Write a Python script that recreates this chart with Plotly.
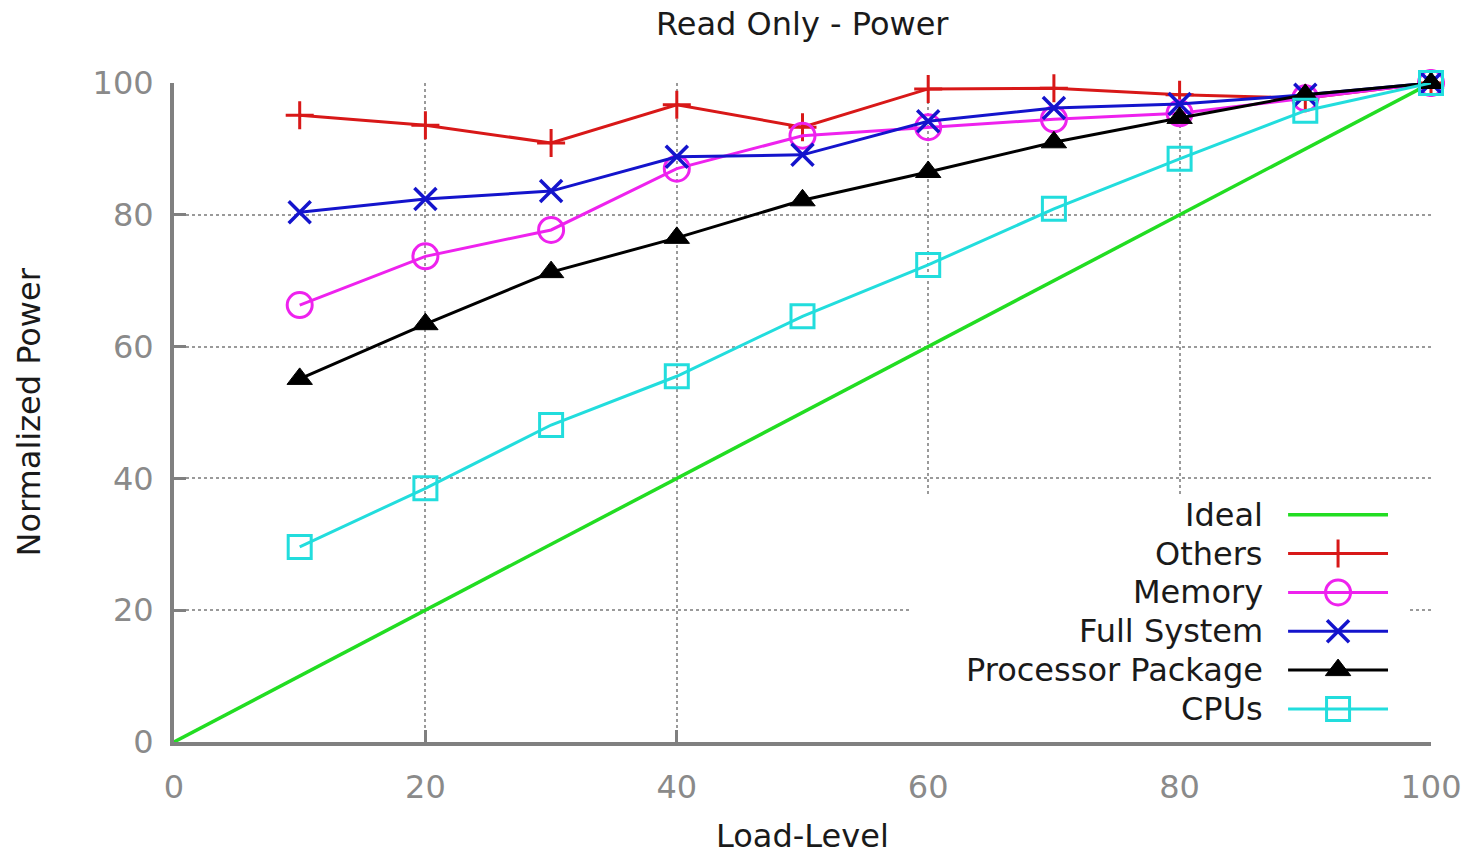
import plotly.graph_objects as go

# ---- data ----
load_levels = [10, 20, 30, 40, 50, 60, 70, 80, 90, 100]
ideal_x = [0, 100]
ideal_y = [0, 100]
others = [95.1, 93.6, 90.9, 96.7, 93.3, 99.1, 99.2, 98.2, 97.7, 100]
memory = [66.3, 73.7, 77.7, 87.0, 92.0, 93.3, 94.5, 95.4, 97.7, 100]
full_system = [80.4, 82.4, 83.6, 88.8, 89.1, 94.2, 96.2, 96.8, 98.2, 100]
processor_pkg = [55.1, 63.4, 71.3, 76.5, 82.2, 86.5, 91.0, 94.7, 98.2, 100]
cpus = [29.6, 38.5, 48.1, 55.5, 64.6, 72.4, 80.9, 88.5, 95.8, 100]
tick_vals = [0, 20, 40, 60, 80, 100]
tick_text = ["0", "20", "40", "60", "80", "100"]

FONT = "DejaVu Sans"
FS = 32
GREEN = "#22dd22"
RED = "#d81818"
MAG = "#ee22ee"
BLUE = "#1414cc"
BLACK = "#000000"
CYAN = "#22dddd"

series = [
    ("Ideal", None, None, GREEN, None, 0, 0),
    ("Others", load_levels, others, RED, "cross-thin-open", 20, 3),
    ("Memory", load_levels, memory, MAG, "circle-open", 25, 3),
    ("Full System", load_levels, full_system, BLUE, "x-thin-open", 22, 3.5),
    ("Processor Package", load_levels, processor_pkg, BLACK, "triangle-up", 22, 1),
    ("CPUs", load_levels, cpus, CYAN, "square-open", 23, 3),
]

fig = go.Figure()

for name, xs, ys, col, sym, sz, lw in series:
    if name == "Ideal":
        fig.add_trace(go.Scatter(x=ideal_x, y=ideal_y, mode="lines",
                                 line=dict(color=col, width=3.5),
                                 showlegend=False, cliponaxis=False, name=name))
    else:
        fig.add_trace(go.Scatter(x=xs, y=ys, mode="lines+markers",
                                 line=dict(color=col, width=3),
                                 marker=dict(symbol=sym, size=sz, color=col,
                                             line=dict(color=col, width=lw)),
                                 showlegend=False, cliponaxis=False, name=name))

# ---- custom legend (text left, key on the right, like gnuplot) ----
n = len(series)
for i, (name, xs, ys, col, sym, sz, lw) in enumerate(series):
    row = n - 1 - i
    if sym is None:
        fig.add_trace(go.Scatter(x=[0.758, 0.958], y=[row, row], mode="lines",
                                 line=dict(color=col, width=3.5),
                                 xaxis="x2", yaxis="y2", showlegend=False,
                                 hoverinfo="skip", cliponaxis=False))
    else:
        fig.add_trace(go.Scatter(x=[0.758, 0.858, 0.958], y=[row, row, row],
                                 mode="lines+markers",
                                 line=dict(color=col, width=3),
                                 marker=dict(symbol=sym, size=sz, color=col,
                                             opacity=[0, 1, 0],
                                             line=dict(color=col, width=lw)),
                                 xaxis="x2", yaxis="y2", showlegend=False,
                                 hoverinfo="skip", cliponaxis=False))
    fig.add_annotation(x=0.712, y=row, xref="x2", yref="y2", text=name,
                       showarrow=False, xanchor="right", yanchor="middle",
                       font=dict(family=FONT, size=FS, color="#1a1a1a"))

# white legend box hiding the grid
fig.add_shape(type="rect", xref="x", yref="y",
              x0=58.5, x1=98.2, y0=0.0, y1=37.2,
              fillcolor="white", line=dict(width=0), layer="between")

axis_common = dict(
    range=[0, 100], tickmode="array", tickvals=tick_vals, ticktext=tick_text,
    showgrid=True, gridcolor="#9a9a9a", griddash="dot", gridwidth=2,
    zeroline=False, showline=True, linecolor="#808080", linewidth=4,
    ticks="inside", ticklen=12, tickwidth=3, tickcolor="#808080",
    tickfont=dict(family=FONT, size=FS, color="#8a8a8a"),
    mirror=False, fixedrange=True,
)

fig.update_layout(
    width=1474, height=856,
    margin=dict(l=174, r=41, t=83, b=114),
    paper_bgcolor="white", plot_bgcolor="white",
    xaxis=dict(**axis_common, ticklabelstandoff=14),
    yaxis=dict(**axis_common, ticklabelstandoff=10),
    xaxis2=dict(domain=[0.585, 0.9825], range=[0, 1], visible=False,
                anchor="y2", fixedrange=True),
    yaxis2=dict(domain=[0.0, 0.372], range=[-0.85, 5.46], visible=False,
                anchor="x2", fixedrange=True),
    showlegend=False,
    font=dict(family=FONT, size=FS, color="#1a1a1a"),
)

# titles
fig.add_annotation(text="Read Only - Power", xref="paper", yref="paper",
                   x=0.5, y=1, yshift=59, showarrow=False,
                   xanchor="center", yanchor="middle",
                   font=dict(family=FONT, size=FS, color="#1a1a1a"))
fig.add_annotation(text="Load-Level", xref="paper", yref="paper",
                   x=0.5, y=0, yshift=-94, showarrow=False,
                   xanchor="center", yanchor="middle",
                   font=dict(family=FONT, size=FS, color="#1a1a1a"))
fig.add_annotation(text="Normalized Power", xref="paper", yref="paper",
                   x=0, y=0.5, xshift=-146, showarrow=False, textangle=-90,
                   xanchor="center", yanchor="middle",
                   font=dict(family=FONT, size=FS, color="#1a1a1a"))

fig.write_html("out.html")
